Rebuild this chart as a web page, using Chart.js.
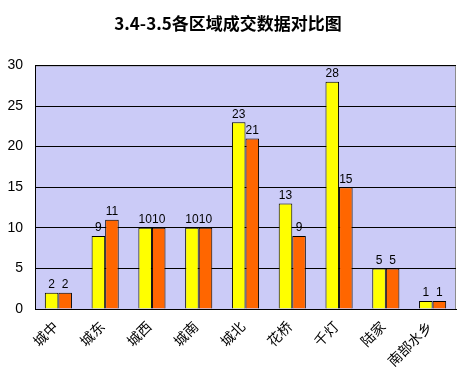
<!DOCTYPE html>
<html>
<head>
<meta charset="utf-8">
<script src="https://cdn.jsdelivr.net/npm/chart.js@4/dist/chart.umd.min.js"></script>
<style>
  html, body { margin: 0; padding: 0; background: #fff; }
  #wrap { width: 464px; height: 370px; }
</style>
</head>
<body>
<div id="wrap"><canvas id="areaChart" width="464" height="370"></canvas></div>
<script>
const areas = ['城中', '城东', '城西', '城南', '城北', '花桥', '千灯', '陆家', '南部水乡'];
const day34 = [2, 9, 10, 10, 23, 13, 28, 5, 1];
const day35 = [2, 11, 10, 10, 21, 9, 15, 5, 1];
const yTicks = [0, 5, 10, 15, 20, 25, 30];

// lavender plot background with grey frame
const plotBg = {
    id: 'plotBg',
    beforeDraw(chart) {
        const { ctx, chartArea: a } = chart;
        ctx.save();
        ctx.fillStyle = '#cbcbf7';
        ctx.fillRect(a.left, a.top, a.right - a.left, a.bottom - a.top);
        ctx.strokeStyle = '#8c8c8c';
        ctx.lineWidth = 1;
        ctx.strokeRect(a.left + 0.5, a.top + 0.5, a.right - a.left - 1, a.bottom - a.top);
        ctx.restore();
    }
};

// value labels above each bar
const valueLabels = {
    id: 'valueLabels',
    afterDatasetsDraw(chart) {
        const ctx = chart.ctx;
        ctx.save();
        ctx.font = '12px "Liberation Sans"';
        ctx.fillStyle = '#000';
        ctx.textAlign = 'center';
        ctx.textBaseline = 'bottom';
        chart.data.datasets.forEach((ds, i) => {
            chart.getDatasetMeta(i).data.forEach((bar, j) => {
                ctx.fillText(ds.data[j], bar.x, bar.y - 2);
            });
        });
        ctx.restore();
    }
};

const ctx = document.getElementById('areaChart').getContext('2d');
const areaChart = new Chart(ctx, {
    type: 'bar',
    data: {
        labels: areas,
        datasets: [{
            label: '3.4',
            data: day34,
            backgroundColor: '#ffff00',
            borderColor: '#000',
            borderWidth: 1,
            categoryPercentage: 0.58,
            barPercentage: 1
        }, {
            label: '3.5',
            data: day35,
            backgroundColor: '#ff6600',
            borderColor: '#000',
            borderWidth: 1,
            categoryPercentage: 0.58,
            barPercentage: 1
        }]
    },
    options: {
        responsive: false,
        animation: false,
        layout: { padding: { top: 0, right: 8, left: 0, bottom: 0 } },
        plugins: {
            legend: { display: false },
            tooltip: { enabled: false },
            title: {
                display: true,
                text: '3.4-3.5各区域成交数据对比图',
                color: '#000',
                font: { family: '"Noto Sans CJK SC"', size: 17, weight: 'bold' },
                padding: { top: 13, bottom: 32 }
            }
        },
        scales: {
            x: {
                grid: { display: false },
                border: { color: '#000', width: 1 },
                ticks: {
                    color: '#000',
                    font: { family: '"Noto Sans CJK SC"', size: 14 },
                    minRotation: 45,
                    maxRotation: 45,
                    padding: 1,
                    labelOffset: -3
                },
                afterFit(scale) { scale.height = 61; }
            },
            y: {
                min: 0,
                max: 30,
                afterBuildTicks(scale) { scale.ticks = yTicks.map(v => ({ value: v })); },
                grid: { color: '#000', drawTicks: false },
                border: { color: '#000', width: 1 },
                ticks: {
                    color: '#000',
                    font: { family: '"Liberation Sans"', size: 14 },
                    padding: 12
                },
                afterFit(scale) { scale.width = 35; }
            }
        }
    },
    plugins: [plotBg, valueLabels]
});
</script>
</body>
</html>
